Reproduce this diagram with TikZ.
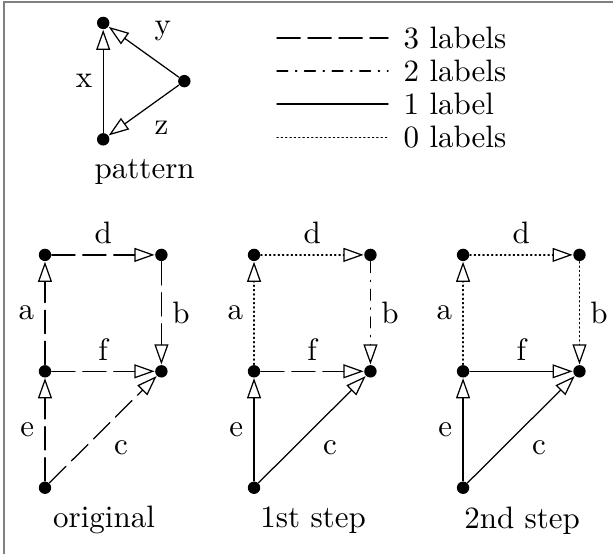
\documentclass[tikz,border=0pt]{standalone}
\usepackage{tikz}
\usetikzlibrary{arrows.meta}

\tikzset{
  dot/.style={circle, fill, inner sep=0pt, minimum size=4pt},
  openarrow/.style={-{Triangle[open, length=6.5pt, width=4.5pt]}},
  three/.style={dash pattern=on 7.5pt off 2.5pt},
  two/.style={dash pattern=on 3.5pt off 2.5pt on 0.4pt off 2.5pt},
  one/.style={solid},
  zero/.style={densely dotted},
}

\begin{document}
\begin{tikzpicture}[line cap=round]

    % Frame
    \useasboundingbox (0,0) rectangle (6.95,-6.27);
    \draw[gray, line width=0.6pt] (0.045,-0.023) rectangle (7.0,-6.32);

    % Pattern
    \node[dot] (T) at (1.17,-0.26) {};
    \node[dot] (Bt) at (1.17,-1.58) {};
    \node[dot] (R) at (2.09,-0.92) {};
    \draw[openarrow] (Bt) -- node[left] (lx) {x} (T);
    \draw[openarrow] (R) -- node[above right] (ly) {y} (T);
    \draw[openarrow] (R) -- node[below right] (lz) {z} (Bt);
    \node (pattern) at (1.64,-1.95) {pattern};

    % Legend
    \foreach \st/\txt [count=\i from 0] in {three/3 labels, two/2 labels, one/1 label, zero/0 labels} {
        \coordinate (ls\i) at (3.14,-0.43-0.375*\i);
        \coordinate (le\i) at (4.40,-0.43-0.375*\i);
        \draw[\st] (ls\i) -- (le\i) node[right, xshift=1.5pt] (leg\i) {\txt};
    }

    % Steps
    \foreach \dx/\ka/\kd/\kb/\kf/\ke/\kc/\capt [count=\i] in {
        0/three/three/three/three/three/three/original,
        2.37/zero/zero/two/three/one/one/1st step,
        4.74/zero/zero/zero/one/one/one/2nd step} {
        \begin{scope}[xshift=\dx cm]
            \node[dot] (TL\i) at (0.51,-2.89) {};
            \node[dot] (TR\i) at (1.83,-2.89) {};
            \node[dot] (ML\i) at (0.51,-4.21) {};
            \node[dot] (MR\i) at (1.83,-4.21) {};
            \node[dot] (B\i)  at (0.51,-5.53) {};
            \draw[openarrow, \ka] (ML\i) -- node[left] (a\i) {a} (TL\i);
            \draw[openarrow, \kd] (TL\i) -- node[above] (d\i) {d} (TR\i);
            \draw[openarrow, \kb] (TR\i) -- node[right] (b\i) {b} (MR\i);
            \draw[openarrow, \kf] (ML\i) -- node[above] (f\i) {f} (MR\i);
            \draw[openarrow, \ke] (B\i) -- node[left] (e\i) {e} (ML\i);
            \draw[openarrow, \kc] (B\i) -- node[below right] (c\i) {c} (MR\i);
            \node (cap\i) at (1.18,-5.9) {\capt};
        \end{scope}
    }
\end{tikzpicture}
\end{document}
